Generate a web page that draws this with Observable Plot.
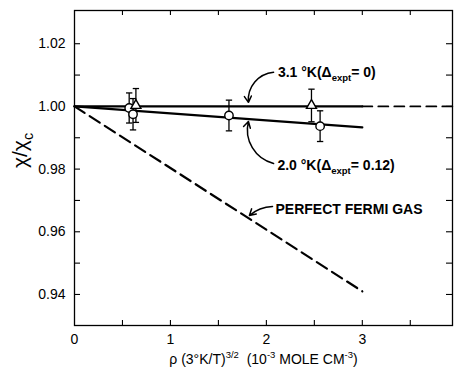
<!DOCTYPE html>
<html><head><meta charset="utf-8">
<script src="https://cdn.jsdelivr.net/npm/d3@7"></script>
<script src="https://cdn.jsdelivr.net/npm/@observablehq/plot@0.6"></script>
<style>body{margin:0;background:#fff;} svg{display:block;}</style>
</head><body><div id="chart"></div>
<script>
// ---- axes ----
const xDomain = [0, 3.94];
const yDomain = [0.9301, 1.0306];
const xTicks = [0, 1, 2, 3];
const yTicks = [0.94, 0.96, 0.98, 1.00, 1.02];
const xMinor = [0.5, 1, 1.5, 2, 2.5, 3, 3.5];
const yMinor = [0.94, 0.95, 0.96, 0.97, 0.98, 0.99, 1.00, 1.01, 1.02];
const xLabel = "ρ (3°K/T)^{3/2}  (10^{-3} MOLE CM^{-3})";
const yLabel = "χ/χ_{c}";

// ---- data: open circles (2.0 °K) ----
const circX = [0.57, 0.61, 1.61, 2.56];
const circY = [0.9995, 0.9975, 0.9971, 0.9937];
const circErr = [0.0048, 0.0050, 0.0049, 0.0049];
// ---- data: open triangles (3.1 °K) ----
const triX = [0.64, 2.47];
const triY = [1.0003, 1.0003];
const triErr = [0.0054, 0.0052];

// ---- curves ----
const fit31X = [0, 3];      const fit31Y = [1.0, 1.0];
const ext31X = [3, 3.94];   const ext31Y = [1.0, 1.0];
const fit20X = [0, 3];      const fit20Y = [1.0, 0.9933];
const fermiX = [0, 3];      const fermiY = [1.0, 0.941];

// ---- annotations ----
const noteText = ["3.1 °K(Δ_{expt}= 0)", "2.0 °K(Δ_{expt}= 0.12)", "PERFECT FERMI GAS"];
const noteX = [2.12, 2.115, 2.095];
const noteY = [1.0109, 0.9812, 0.9671];
const arrX1 = [2.075, 2.075, 2.064];
const arrY1 = [1.0109, 0.9818, 0.9681];
const arrX2 = [1.813, 1.813, 1.823];
const arrY2 = [1.0013, 0.9952, 0.9652];
const arrBend = [-45, 45, -20];

const circles = circX.map((x, i) => ({x, y: circY[i], lo: circY[i] - circErr[i], hi: circY[i] + circErr[i]}));
const tris = triX.map((x, i) => ({x, y: triY[i], lo: triY[i] - triErr[i], hi: triY[i] + triErr[i]}));
const points = circles.concat(tris);
const caps = points.flatMap(d => [{x: d.x, y: d.lo}, {x: d.x, y: d.hi}]);
const capHalf = 0.033;
const line = (xs, ys) => xs.map((x, i) => ({x, y: ys[i]}));
const notes = noteText.map((t, i) => ({t, x: noteX[i], y: noteY[i]}));
const arrowMarks = arrX1.map((x1, i) =>
  Plot.arrow([{x1, y1: arrY1[i], x2: arrX2[i], y2: arrY2[i]}],
    {x1: "x1", y1: "y1", x2: "x2", y2: "y2", bend: arrBend[i], stroke: "#000", strokeWidth: 1.5, headLength: 7}));

const W = 456, H = 373, mL = 74, mR = 4, mT = 10, mB = 48;
const iW = W - mL - mR, iH = H - mT - mB;

const plot = Plot.plot({
  width: W, height: H,
  marginLeft: mL, marginRight: mR, marginTop: mT, marginBottom: mB,
  style: {fontFamily: "'Liberation Sans', Arial, sans-serif", color: "#000", background: "#fff"},
  x: {domain: xDomain},
  y: {domain: yDomain},
  marks: [
    Plot.frame({stroke: "#000", strokeWidth: 1.3}),
    // inward ticks
    Plot.tickX(xMinor, {x: d => d, insetTop: iH - 5, stroke: "#000", strokeWidth: 1.1}),
    Plot.tickX(xMinor, {x: d => d, insetBottom: iH - 5, stroke: "#000", strokeWidth: 1.1}),
    Plot.tickY(yMinor, {y: d => d, insetRight: iW - 6, stroke: "#000", strokeWidth: 1.1}),
    Plot.tickY(yMinor, {y: d => d, insetLeft: iW - 6, stroke: "#000", strokeWidth: 1.1}),
    Plot.axisX({ticks: xTicks, tickSize: 0, tickPadding: 9, fontSize: 14, tickFormat: d => String(d), label: null}),
    Plot.axisY({ticks: yTicks, tickSize: 0, tickPadding: 9, fontSize: 14, tickFormat: d3.format(".2f"), label: null}),
    // curves
    Plot.line(line(fermiX, fermiY), {x: "x", y: "y", stroke: "#000", strokeWidth: 2.2, strokeDasharray: "12,6"}),
    Plot.line(line(ext31X, ext31Y), {x: "x", y: "y", stroke: "#000", strokeWidth: 1.8, strokeDasharray: "10,6"}),
    Plot.line(line(fit31X, fit31Y), {x: "x", y: "y", stroke: "#000", strokeWidth: 2.2}),
    Plot.line(line(fit20X, fit20Y), {x: "x", y: "y", stroke: "#000", strokeWidth: 2.2}),
    // error bars
    Plot.link(points, {x1: "x", x2: "x", y1: "lo", y2: "hi", stroke: "#000", strokeWidth: 1.3}),
    Plot.link(caps, {x1: d => d.x - capHalf, x2: d => d.x + capHalf, y1: "y", y2: "y", stroke: "#000", strokeWidth: 1.3}),
    // symbols
    Plot.dot(circles, {x: "x", y: "y", r: 4.2, fill: "#fff", stroke: "#000", strokeWidth: 1.4}),
    Plot.dot(tris, {x: "x", y: "y", r: 3.7, symbol: "triangle", fill: "#fff", stroke: "#000", strokeWidth: 1.4}),
    // annotations
    ...arrowMarks,
    Plot.text(notes, {x: "x", y: "y", text: "t", textAnchor: "start", fontSize: 14, fontWeight: "bold", fill: "#000"}),
    // axis titles
    Plot.text([xLabel], {text: d => d, frameAnchor: "bottom", dy: 38, fontSize: 14, fill: "#000"}),
    Plot.text([yLabel], {text: d => d, frameAnchor: "left", dx: -54, rotate: -90, fontSize: 21, fill: "#000"})
  ]
});
document.getElementById("chart").appendChild(plot);

// rich text: ^{..} superscript, _{..} subscript
d3.select(plot).selectAll("text").each(function () {
  const s = this.textContent;
  if (!/[\^_]\{/.test(s)) return;
  const fs = parseFloat(getComputedStyle(this).fontSize) || 14;
  const el = d3.select(this);
  el.text(null);
  const re = /([\^_])\{([^}]*)\}|([^\^_]+)/g;
  let m, pending = 0;
  while ((m = re.exec(s))) {
    const ts = el.append("tspan");
    if (m[3] !== undefined) {
      ts.text(m[3]);
      if (pending) ts.attr("dy", pending);
      pending = 0;
    } else {
      const sup = m[1] === "^";
      const shift = sup ? -0.42 * fs : 0.28 * fs;
      ts.text(m[2]).attr("font-size", 0.68 * fs).attr("dy", shift + pending);
      pending = -shift;
    }
  }
});
</script>
</body></html>
